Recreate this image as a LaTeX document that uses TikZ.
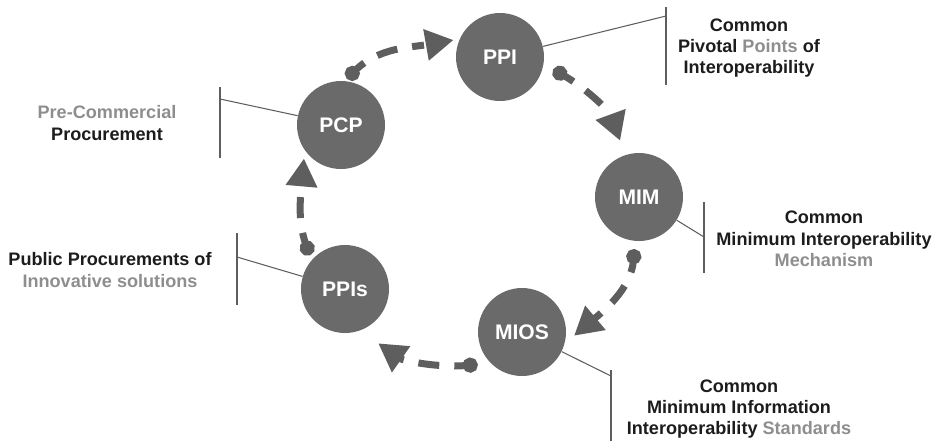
\documentclass[tikz,border=0pt]{standalone}
\usepackage{fontspec}
\setmainfont{Liberation Sans}
\usetikzlibrary{arrows.meta}

\definecolor{disc}{HTML}{6A6A6A}
\definecolor{link}{HTML}{5E5E5E}
\definecolor{soft}{HTML}{8E8E8E}
\definecolor{ink}{HTML}{1C1C1C}

\tikzset{
    phase/.style={circle, fill=disc, minimum size=1.76cm, inner sep=0pt,
        text=white, font=\fontsize{12}{14}\selectfont\bfseries},
    flow/.style={draw=link, line width=0.14cm,
        dash pattern=on 0.24cm off 0.3cm on 0.42cm off 0.3cm,
        {Circle[length=0.3cm]}-{Triangle[length=0.56cm,width=0.6cm]}},
    note/.style={align=center, text=ink, font=\fontsize{10.3}{12.2}\selectfont\bfseries},
    lead/.style={draw=link, line width=0.6pt},
    bar/.style={draw=link, line width=0.8pt}
}

\begin{document}
\begin{tikzpicture}[x=0.02cm, y=-0.02cm]

    \useasboundingbox (0,0) rectangle (941,441);

    \node[phase] (PCP)  at (341,125) {PCP};
    \node[phase] (PPI)  at (500,57)  {PPI};
    \node[phase] (MIM)  at (639,197) {MIM};
    \node[phase] (MIOS) at (522,332) {MIOS};
    \node[phase] (PPIs) at (345,289) {PPIs};

    \draw[flow, shorten <=0.06cm, shorten >=0.12cm] (PCP.85)   to[out=45, in=190]  (PPI.156);
    \draw[flow, shorten <=0.22cm, shorten >=0.3cm]  (PPI.-9)   to[out=-30, in=110] (MIM.108);
    \draw[flow, shorten <=0.16cm, shorten >=0.24cm] (MIM.265)  to[out=-95, in=40]  (MIOS.-15);
    \draw[flow, shorten <=0.26cm, shorten >=0.44cm] (MIOS.225) to[out=185, in=-35] (PPIs.-70);
    \draw[flow, shorten <=0.1cm, shorten >=0.16cm]  (PPIs.139) to[out=110, in=-95] (PCP.215);

    \coordinate (PCPknee)  at (220,99);
    \coordinate (PPIknee)  at (666,16);
    \coordinate (MIMknee)  at (704,237);
    \coordinate (MIOSknee) at (611,376);
    \coordinate (PPIsknee) at (237,257);

    \draw[bar] (220,87)  -- (220,158);
    \draw[bar] (666,7)   -- (666,85);
    \draw[bar] (704,202) -- (704,273);
    \draw[bar] (611,370) -- (611,441);
    \draw[bar] (237,233) -- (237,305);

    \draw[lead] (PCP)  -- (PCPknee);
    \draw[lead] (PPI)  -- (PPIknee);
    \draw[lead] (MIM)  -- (MIMknee);
    \draw[lead] (MIOS) -- (MIOSknee);
    \draw[lead] (PPIs) -- (PPIsknee);

    \node[note] (PCPtxt)  at (107,123) {\textcolor{soft}{Pre-Commercial}\\Procurement};
    \node[note] (PPItxt)  at (749,48)  {Common\\Pivotal \textcolor{soft}{Points} of\\Interoperability};
    \node[note] (MIMtxt)  at (824,239) {Common\\Minimum Interoperability\\\textcolor{soft}{Mechanism}};
    \node[note] (MIOStxt) at (739,409) {Common\\Minimum Information\\Interoperability \textcolor{soft}{Standards}};
    \node[note] (PPIstxt) at (110,270) {Public Procurements of\\\textcolor{soft}{Innovative solutions}};

\end{tikzpicture}
\end{document}
